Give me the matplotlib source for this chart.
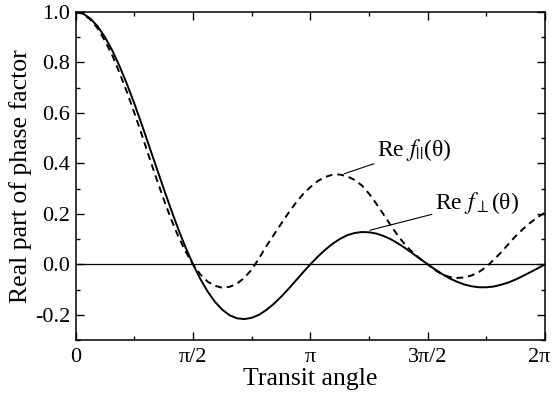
import numpy as np
import matplotlib
matplotlib.use("Agg")
from matplotlib import pyplot as plt
from matplotlib.ticker import MultipleLocator, FixedLocator, FixedFormatter, FormatStrFormatter
from matplotlib.transforms import ScaledTranslation

plt.rcParams['font.family'] = ['Liberation Serif', 'DejaVu Serif']
plt.rcParams['mathtext.fontset'] = 'stix'
plt.rcParams['axes.unicode_minus'] = False

# transit angle in units of pi, read at steps of pi/32
theta_over_pi = [k / 32 for k in range(65)]

re_f_perp = [1.000, 0.994, 0.974, 0.943, 0.900, 0.847, 0.784, 0.714,
             0.637, 0.555, 0.470, 0.385, 0.300, 0.218, 0.139, 0.066,
             0.000, -0.058, -0.108, -0.149, -0.180, -0.202, -0.214, -0.217,
             -0.212, -0.200, -0.181, -0.157, -0.129, -0.098, -0.065, -0.032,
             0.000, 0.030, 0.057, 0.081, 0.100, 0.115, 0.124, 0.128,
             0.127, 0.122, 0.112, 0.099, 0.082, 0.063, 0.042, 0.021,
             0.000, -0.020, -0.039, -0.056, -0.069, -0.080, -0.087, -0.091,
             -0.091, -0.088, -0.081, -0.072, -0.060, -0.046, -0.031, -0.016, 0.000]

re_f_par = [1.000, 0.993, 0.970, 0.935, 0.885, 0.828, 0.757, 0.682,
            0.600, 0.515, 0.427, 0.341, 0.258, 0.180, 0.110, 0.050,
            0.000, -0.040, -0.069, -0.085, -0.093, -0.089, -0.077, -0.053,
            -0.021, 0.024, 0.072, 0.116, 0.160, 0.203, 0.243, 0.278,
            0.306, 0.330, 0.346, 0.355, 0.356, 0.349, 0.335, 0.313,
            0.280, 0.240, 0.197, 0.153, 0.111, 0.075, 0.046, 0.021,
            0.000, -0.023, -0.040, -0.050, -0.054, -0.052, -0.044, -0.030,
            -0.010, 0.018, 0.047, 0.080, 0.112, 0.140, 0.165, 0.187, 0.205]

x_tick_pos = [0, 0.5, 1.0, 1.5, 2.0]
x_tick_labels = ['0', 'π/2', 'π', '3π/2', '2π']

x = np.array(theta_over_pi) * np.pi

fig = plt.figure(figsize=(5.54, 3.94), dpi=100)
ax = fig.add_axes([0.1366, 0.137, 0.8472, 0.8325])

ax.axhline(0, color='black', lw=0.9)
ax.plot(x, re_f_perp, color='black', lw=1.4)
ax.plot(x, re_f_par, color='black', lw=1.4, dashes=(3.5, 2.5))

ax.set_xlim(0, 2 * np.pi)
ax.set_ylim(-0.3, 1.0)

ax.xaxis.set_major_locator(FixedLocator([p * np.pi for p in x_tick_pos]))
ax.xaxis.set_major_formatter(FixedFormatter(x_tick_labels))
ax.xaxis.set_minor_locator(MultipleLocator(np.pi / 4))
ax.yaxis.set_major_locator(MultipleLocator(0.2))
ax.yaxis.set_minor_locator(MultipleLocator(0.1))
ax.yaxis.set_major_formatter(FormatStrFormatter('%.1f'))

ax.tick_params(which='both', direction='in', top=True, right=True, width=1.0)
ax.tick_params(which='major', length=5.8, labelsize=16, pad=4)
ax.tick_params(axis='x', which='major', pad=5.5)
ax.tick_params(which='minor', length=3)
for s in ax.spines.values():
    s.set_linewidth(1.1)

# keep the last x label inside the figure
fig.canvas.draw()
last = ax.get_xticklabels()[-1]
last.set_transform(last.get_transform() + ScaledTranslation(-6 / 100, 0, fig.dpi_scale_trans))

ax.set_xlabel('Transit angle', fontsize=18.5, labelpad=1)
ax.set_ylabel('Real part of phase factor', fontsize=18.5, labelpad=2)

ax.annotate(r'Re $f_{||}$(θ)', xy=(1.144 * np.pi, 0.359), xytext=(1.283 * np.pi, 0.452),
            fontsize=17, va='center', ha='left',
            arrowprops=dict(arrowstyle='-', color='black', lw=0.8, shrinkA=0, shrinkB=0))
ax.annotate(r'Re $f_{\perp}$(θ)', xy=(1.254 * np.pi, 0.135), xytext=(1.530 * np.pi, 0.244),
            fontsize=17, va='center', ha='left',
            arrowprops=dict(arrowstyle='-', color='black', lw=0.8, shrinkA=0, shrinkB=0))

fig.savefig('out.png', dpi=100)
